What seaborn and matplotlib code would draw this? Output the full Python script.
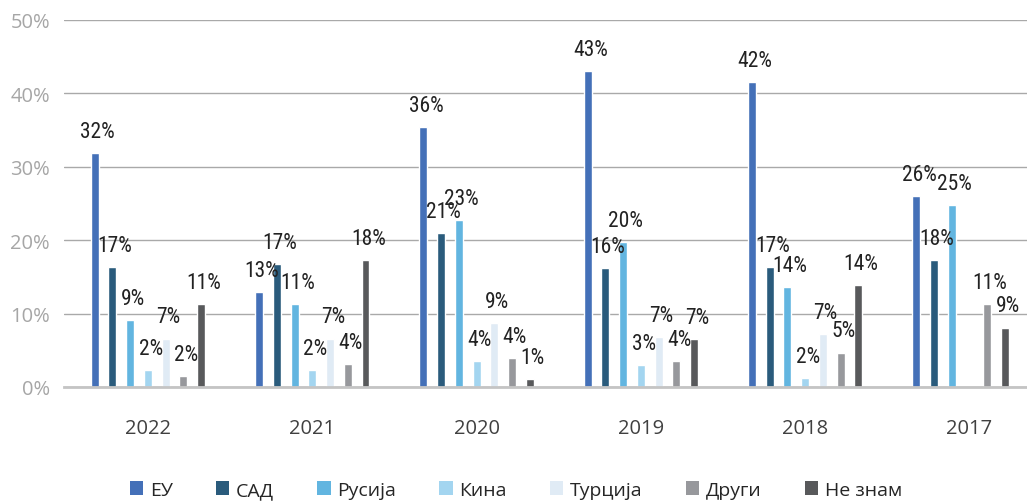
import numpy as np
import pandas as pd
import matplotlib
matplotlib.use("Agg")
import matplotlib.pyplot as plt
from matplotlib.patches import Patch
from matplotlib.colors import to_hex
import seaborn as sns

years = ['2022', '2021', '2020', '2019', '2018', '2017']
series = ['ЕУ', 'САД', 'Русија', 'Кина', 'Турција', 'Други', 'Не знам']

eu = [31.9, 12.9, 35.4, 43.1, 41.6, 26.0]
sad = [16.3, 16.8, 21.0, 16.2, 16.3, 17.3]
rusija = [9.1, 11.3, 22.7, 19.7, 13.6, 24.8]
kina = [2.3, 2.3, 3.5, 2.95, 1.2, np.nan]
turcija = [6.6, 6.6, 8.7, 6.8, 7.2, np.nan]
drugi = [1.45, 3.1, 3.9, 3.5, 4.7, 11.3]
ne_znam = [11.3, 17.3, 1.05, 6.5, 13.9, 8.1]

lbl_eu = ['32%', '13%', '36%', '43%', '42%', '26%']
lbl_sad = ['17%', '17%', '21%', '16%', '17%', '18%']
lbl_rusija = ['9%', '11%', '23%', '20%', '14%', '25%']
lbl_kina = ['2%', '2%', '4%', '3%', '2%', None]
lbl_turcija = ['7%', '7%', '9%', '7%', '7%', None]
lbl_drugi = ['2%', '4%', '4%', '4%', '5%', '11%']
lbl_ne_znam = ['11%', '18%', '1%', '7%', '14%', '9%']

colors = ['#4470B8', '#2A5B7C', '#62B5E0', '#A3D5F0', '#E0EBF5', '#97989C', '#58595B']

values = [eu, sad, rusija, kina, turcija, drugi, ne_znam]
labels = [lbl_eu, lbl_sad, lbl_rusija, lbl_kina, lbl_turcija, lbl_drugi, lbl_ne_znam]

rows = []
for s, vals in zip(series, values):
    for y, v in zip(years, vals):
        rows.append({'year': y, 'series': s, 'value': v})
df = pd.DataFrame(rows).dropna()

sns.set_style("white")
narrow = ['Roboto Condensed', 'Liberation Sans Narrow', 'Roboto', 'DejaVu Sans']
opensans = ['Open Sans', 'DejaVu Sans']
plt.rcParams['font.family'] = opensans

W, H = 1027, 502
fig = plt.figure(figsize=(W / 100, H / 100), dpi=100)
ax = fig.add_axes([64 / W, 114 / H, (W - 64) / W, (388 - 21) / H])

pal = dict(zip(series, colors))
pal[' '] = '#ffffff'
common = dict(x='year', y='value', hue='series', order=years, palette=pal,
              width=0.756, gap=0.55, saturation=1, legend=False, ax=ax, zorder=3)

# Main years
sns.barplot(data=df[df['year'] != '2017'], hue_order=series, **common)
# 2017: in the reference the empty Кина/Турција slots collapse to a single gap
order_2017 = ['ЕУ', 'САД', 'Русија', 'Кина', 'Други', 'Не знам', ' ']
sns.barplot(data=df[df['year'] == '2017'], hue_order=order_2017, **common)

ax.set_ylim(0, 50)
ax.set_xlim(-0.511, 5.35)
ax.set_yticks([0, 10, 20, 30, 40, 50])
ax.set_yticklabels([f'{t}%' for t in [0, 10, 20, 30, 40, 50]])
ax.yaxis.grid(True, color='#a9a9a9', linewidth=1.0, zorder=0)
ax.set_axisbelow(True)
for sp in ['top', 'right', 'left']:
    ax.spines[sp].set_visible(False)
ax.spines['bottom'].set_color('#c4c4c4')
ax.spines['bottom'].set_linewidth(2)
ax.spines['bottom'].set_zorder(4)
ax.tick_params(axis='y', length=0, pad=10, labelsize=14.5, labelcolor='#a6a6a6')
ax.tick_params(axis='x', length=0, pad=22, labelsize=14.5, labelcolor='#404040')
ax.set_xlabel('')
ax.set_ylabel('')

color_to_idx = {c.lower(): i for i, c in enumerate(colors)}
for bar in ax.patches:
    h = bar.get_height()
    if h is None or np.isnan(h) or h <= 0:
        continue
    key = to_hex(bar.get_facecolor()).lower()
    if key not in color_to_idx:
        continue
    si = color_to_idx[key]
    cx = bar.get_x() + bar.get_width() / 2
    gi = int(round(cx))
    txt = labels[si][gi]
    if txt is None:
        continue
    ax.annotate(txt, (cx, h), xytext=(2, 8), textcoords='offset points',
                ha='center', va='bottom', fontsize=15.5, color='#222222',
                family=narrow, zorder=5)

handles = [Patch(facecolor=c, edgecolor='none') for c in colors]
fig.legend(handles, series, loc='center', bbox_to_anchor=(516 / W, 1 - 491 / H),
           ncol=7, frameon=False, fontsize=14, handlelength=0.7, handleheight=0.7,
           handletextpad=0.35, columnspacing=2.2, labelcolor='#262626')

fig.savefig('out.png', dpi=100)
